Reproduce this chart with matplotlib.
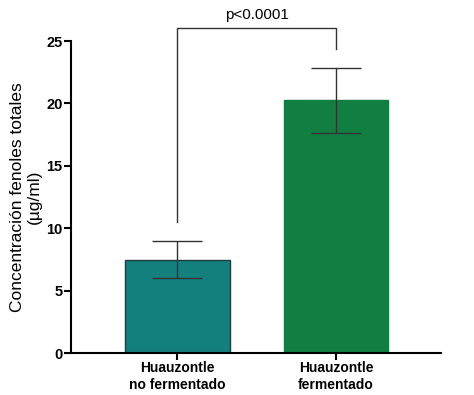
import matplotlib
matplotlib.use("Agg")
import matplotlib.pyplot as plt

plt.rcParams['font.family'] = ['Liberation Sans', 'DejaVu Sans']

categories = ["Huauzontle\nno fermentado", "Huauzontle\nfermentado"]
means = [7.45, 20.27]
err_low = [1.45, 2.64]
err_high = [1.52, 2.57]
colors = ["#14807E", "#117F42"]
yticks = [0, 5, 10, 15, 20, 25]
p_text = "p<0.0001"
bracket_top = 26.05
bracket_left_end = 10.5
bracket_right_end = 24.35

fig = plt.figure(figsize=(4.74, 3.95), dpi=100)
ax = fig.add_axes([0.1498, 0.1063, 0.7805, 0.7899])
x = [0, 1]
ax.bar(x, means, width=0.66, color=colors, edgecolor=["#1f3d3d", colors[1]], linewidth=1.0, zorder=2)
ax.errorbar(x, means, yerr=[err_low, err_high], fmt='none', ecolor='#333333',
            elinewidth=1.0, capsize=18, capthick=1.0, zorder=3)
ax.set_xlim(-0.667, 1.66)
ax.set_ylim(0, 25)
ax.set_yticks(yticks)
ax.set_yticklabels([str(t) for t in yticks], fontweight='bold', fontsize=10.5)
ax.set_xticks(x)
ax.set_xticklabels(categories, fontweight='bold', fontsize=10)
ax.spines['top'].set_visible(False)
ax.spines['right'].set_visible(False)
ax.spines['left'].set_linewidth(1.5)
ax.spines['bottom'].set_linewidth(1.5)
ax.tick_params(axis='both', width=1.5, length=5, pad=1)
ax.set_ylabel("Concentración fenoles totales\n(µg/ml)", fontsize=12.5, labelpad=3, linespacing=1.2)

ax.plot([0, 0, 1, 1], [bracket_left_end, bracket_top, bracket_top, bracket_right_end],
        color='#333333', linewidth=1.0, clip_on=False)
ax.text(0.5, bracket_top + 0.5, p_text, ha='center', va='bottom', fontsize=11)

fig.savefig("out.png", dpi=100)
